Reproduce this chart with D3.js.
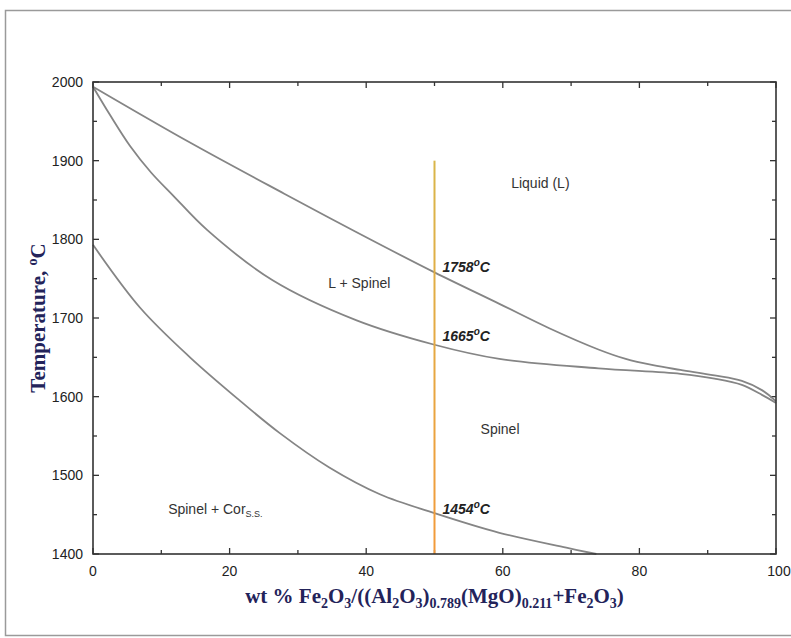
<!DOCTYPE html>
<html>
<head>
<meta charset="utf-8">
<script src="https://cdn.jsdelivr.net/npm/d3@7"></script>
<style>
  body { margin: 0; background: #fff; }
  svg { display: block; }
  .tick-label { font-family: "Liberation Sans", Arial, sans-serif; font-size: 14px; fill: #222; }
  .region { font-family: "Liberation Sans", Arial, sans-serif; font-size: 14px; fill: #333; }
  .temp { font-family: "Liberation Sans", Arial, sans-serif; font-size: 14px; font-weight: bold; font-style: italic; fill: #222; }
  .title { font-family: "Liberation Serif", "Times New Roman", serif; font-size: 21px; font-weight: bold; fill: #23235a; }
</style>
</head>
<body>
<div id="chart"></div>
<script>
// phase boundaries (wt %, degrees C)
const liquidusX = [0, 14, 28, 38.6, 50, 59.5, 66.8, 74, 78, 82, 86, 91, 95, 98, 100];
const liquidusT = [1994, 1924, 1858, 1809, 1758, 1718, 1687, 1660, 1648, 1640, 1634, 1627, 1620, 1608, 1594];

const solidusX = [0, 2.5, 5.4, 8.5, 11.7, 16.7, 26.3, 38.6, 50, 59.5, 74, 86, 91, 95, 98, 100];
const solidusT = [1994, 1958, 1919, 1885, 1856, 1812, 1748, 1697, 1666, 1648, 1636, 1629, 1623, 1615, 1602, 1592];

const solvusX = [0, 6.9, 14.2, 21.5, 27.3, 34.6, 42, 50, 59.5, 69.3, 73.7];
const solvusT = [1793, 1713, 1650, 1595, 1554, 1510, 1476, 1452, 1427, 1408, 1400];

const xTicks = [0, 20, 40, 60, 80, 100];
const yTicks = [1400, 1500, 1600, 1700, 1800, 1900, 2000];

const sectionX = 50;
const sectionT = [1400, 1900];

const markTemps = [1758, 1665, 1454];

const W = 791, H = 638;
const margin = { top: 82, right: 15, bottom: 84, left: 93 };

const svg = d3.select("#chart").append("svg")
  .attr("width", W)
  .attr("height", H);

// outer frame of the figure
svg.append("rect")
  .attr("x", 5.5).attr("y", 10.5)
  .attr("width", 820).attr("height", 625)
  .attr("fill", "none")
  .attr("stroke", "#9a9a9a")
  .attr("stroke-width", 1.5);

const x = d3.scaleLinear().domain([0, 100]).range([margin.left, W - margin.right]);
const y = d3.scaleLinear().domain([1400, 2000]).range([H - margin.bottom, margin.top]);

const g = svg.append("g");

// ticks on all four sides, pointing inward
const xMinor = d3.range(0, 101, 10);
const yMinor = d3.range(1400, 2001, 50);

function tickLen(v, step) { return v % step === 0 ? 6 : 4; }

g.selectAll(".tb").data(xMinor).join("line")
  .attr("x1", d => x(d)).attr("x2", d => x(d))
  .attr("y1", y(1400)).attr("y2", d => y(1400) - tickLen(d, 20))
  .attr("stroke", "#333").attr("stroke-width", 1.3);
g.selectAll(".tt").data(xMinor).join("line")
  .attr("x1", d => x(d)).attr("x2", d => x(d))
  .attr("y1", y(2000)).attr("y2", d => y(2000) + tickLen(d, 20))
  .attr("stroke", "#333").attr("stroke-width", 1.3);
g.selectAll(".tl").data(yMinor).join("line")
  .attr("y1", d => y(d)).attr("y2", d => y(d))
  .attr("x1", x(0)).attr("x2", d => x(0) + tickLen(d, 100))
  .attr("stroke", "#333").attr("stroke-width", 1.3);
g.selectAll(".tr").data(yMinor).join("line")
  .attr("y1", d => y(d)).attr("y2", d => y(d))
  .attr("x1", x(100)).attr("x2", d => x(100) - tickLen(d, 100))
  .attr("stroke", "#333").attr("stroke-width", 1.3);

// tick labels
g.selectAll(".xl").data(xTicks).join("text")
  .attr("class", "tick-label")
  .attr("x", d => x(d) + (d === 100 ? 3 : 0))
  .attr("y", y(1400) + 22)
  .attr("text-anchor", "middle")
  .text(d => d);
g.selectAll(".yl").data(yTicks).join("text")
  .attr("class", "tick-label")
  .attr("x", x(0) - 10)
  .attr("y", d => y(d) + 5)
  .attr("text-anchor", "end")
  .text(d => d);

// phase boundary curves
const line = d3.line()
  .x(d => x(d[0]))
  .y(d => y(d[1]))
  .curve(d3.curveCatmullRom.alpha(0.5));

const curves = [
  d3.zip(liquidusX, liquidusT),
  d3.zip(solidusX, solidusT),
  d3.zip(solvusX, solvusT)
];

g.selectAll(".curve").data(curves).join("path")
  .attr("d", line)
  .attr("fill", "none")
  .attr("stroke", "#858585")
  .attr("stroke-width", 1.8);

// isopleth at 50 wt%
const grad = svg.append("defs").append("linearGradient")
  .attr("id", "iso")
  .attr("gradientUnits", "userSpaceOnUse")
  .attr("x1", 0).attr("x2", 0)
  .attr("y1", y(sectionT[1])).attr("y2", y(sectionT[0]));
grad.append("stop").attr("offset", "0%").attr("stop-color", "#d9b64a");
grad.append("stop").attr("offset", "100%").attr("stop-color", "#f39a3a");

g.append("rect")
  .attr("x", x(sectionX) - 1)
  .attr("y", y(sectionT[1]))
  .attr("width", 2)
  .attr("height", y(sectionT[0]) - y(sectionT[1]))
  .attr("fill", "url(#iso)");

// plot frame
g.append("rect")
  .attr("x", x(0)).attr("y", y(2000))
  .attr("width", x(100) - x(0))
  .attr("height", y(1400) - y(2000))
  .attr("fill", "none")
  .attr("stroke", "#333")
  .attr("stroke-width", 1.6);

// temperature marks on the isopleth
const tempOffset = { 1758: 0, 1665: -5, 1454: 2 };
const temps = g.selectAll(".temp").data(markTemps).join("text")
  .attr("class", "temp")
  .attr("x", x(sectionX) + 8)
  .attr("y", d => y(d) + tempOffset[d]);
temps.append("tspan").text(d => d);
temps.append("tspan").attr("dy", -6).attr("font-size", 10).text("o");
temps.append("tspan").attr("dy", 6).text("C");

// region labels
const regions = [
  { label: "Liquid (L)", x: 65.5, t: 1872 },
  { label: "L + Spinel", x: 39, t: 1744 },
  { label: "Spinel", x: 59.6, t: 1559 }
];
g.selectAll(".region").data(regions).join("text")
  .attr("class", "region")
  .attr("x", d => x(d.x))
  .attr("y", d => y(d.t) + 5)
  .attr("text-anchor", "middle")
  .text(d => d.label);

const cor = g.append("text")
  .attr("class", "region")
  .attr("x", x(11))
  .attr("y", y(1457) + 5);
cor.append("tspan").text("Spinel + Cor");
cor.append("tspan").attr("dy", 3).attr("font-size", 9).text("S.S.");

// axis titles
const xt = svg.append("text")
  .attr("class", "title")
  .attr("x", (x(0) + x(100)) / 2)
  .attr("y", 603)
  .attr("text-anchor", "middle");
const parts = [
  ["wt % Fe", 0], ["2", 1], ["O", 0], ["3", 1], ["/((Al", 0], ["2", 1], ["O", 0], ["3", 1],
  [")", 0], ["0.789", 1], ["(MgO)", 0], ["0.211", 1], ["+Fe", 0], ["2", 1], ["O", 0], ["3", 1], [")", 0]
];
let low = 0;
parts.forEach(([s, sub]) => {
  const t = xt.append("tspan").text(s);
  if (sub && !low) { t.attr("dy", 5).attr("font-size", 14); low = 1; }
  else if (sub) { t.attr("font-size", 14); }
  else if (low) { t.attr("dy", -5); low = 0; }
});

const yt = svg.append("text")
  .attr("class", "title")
  .attr("transform", `translate(45,${(y(1400) + y(2000)) / 2}) rotate(-90)`)
  .attr("text-anchor", "middle");
yt.append("tspan").text("Temperature, ");
yt.append("tspan").attr("dy", -8).attr("font-size", 14).text("o");
yt.append("tspan").attr("dy", 8).text("C");
</script>
</body>
</html>
